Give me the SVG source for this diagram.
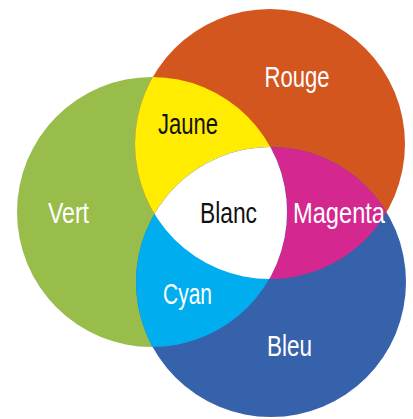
<svg xmlns="http://www.w3.org/2000/svg" width="413" height="419" viewBox="0 0 413 419">
<style>
.lbl{font-family:"Liberation Sans Narrow","Liberation Sans",Arial,sans-serif;font-size:29px;text-anchor:middle;lengthAdjust:spacingAndGlyphs}
.w{fill:#ffffff}
.k{fill:#111111}
</style>
<defs>
<circle id="cR" cx="270" cy="144" r="135"/>
<circle id="cG" cx="152" cy="212" r="135"/>
<circle id="cB" cx="271" cy="282" r="135"/>
<clipPath id="clipR"><use href="#cR"/></clipPath>
<clipPath id="clipG"><use href="#cG"/></clipPath>
<clipPath id="clipB"><use href="#cB"/></clipPath>
</defs>
<rect width="413" height="419" fill="#ffffff"/>
<g id="vert"><use href="#cG" fill="#98bd4b"/></g>
<g id="rouge"><use href="#cR" fill="#d3561f"/></g>
<g id="bleu"><use href="#cB" fill="#3661ab"/></g>
<g id="jaune"><use href="#cG" fill="#ffec00" clip-path="url(#clipR)"/></g>
<g id="magenta"><use href="#cB" fill="#d4278f" clip-path="url(#clipR)"/></g>
<g id="cyan"><use href="#cB" fill="#00aeef" clip-path="url(#clipG)"/></g>
<g id="blanc"><g clip-path="url(#clipG)"><use href="#cB" fill="#ffffff" clip-path="url(#clipR)"/></g></g>
<g id="labels">
<text class="lbl w" x="297" y="87" textLength="65" lengthAdjust="spacingAndGlyphs">Rouge</text>
<text class="lbl k" x="188" y="134" textLength="60" lengthAdjust="spacingAndGlyphs">Jaune</text>
<text class="lbl w" x="68.5" y="223" textLength="41" lengthAdjust="spacingAndGlyphs">Vert</text>
<text class="lbl k" x="228.5" y="223" textLength="57" lengthAdjust="spacingAndGlyphs">Blanc</text>
<text class="lbl w" x="339" y="223" textLength="92" lengthAdjust="spacingAndGlyphs">Magenta</text>
<text class="lbl w" x="187.5" y="304" textLength="49" lengthAdjust="spacingAndGlyphs">Cyan</text>
<text class="lbl w" x="289.5" y="356" textLength="45" lengthAdjust="spacingAndGlyphs">Bleu</text>
</g>
</svg>
